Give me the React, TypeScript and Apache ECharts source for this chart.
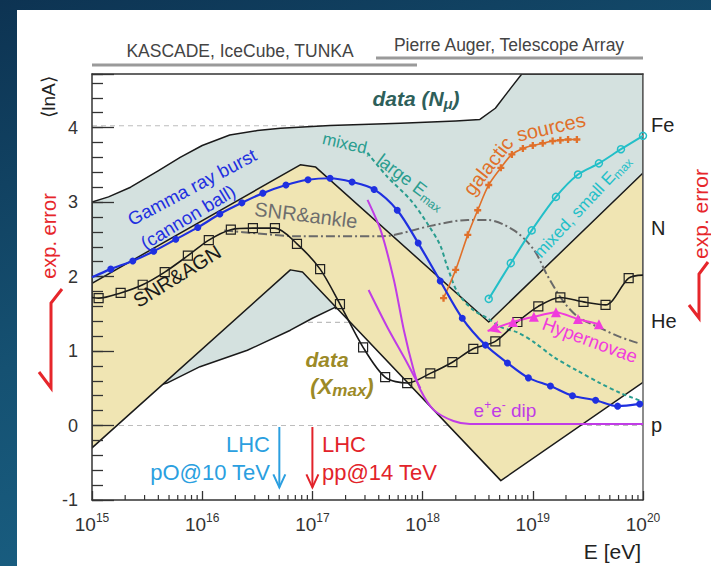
import React, { useEffect, useRef } from 'react';
import * as echarts from 'echarts';

const F = '"Liberation Sans", Arial, Helvetica, sans-serif';

// x = log10(E / eV), y = <lnA>
const X_MIN = 15;
const X_MAX = 20;
const Y_MIN = -1;
const Y_MAX = 4.72;
const LNA_VALUES = [0, 1.386, 2.639, 4.025];
const LNA_NAMES = ['p', 'He', 'N', 'Fe'];

// data (N_mu) band: upper edge then lower edge
const NMU_UPPER = [[15.0, 3.0], [15.15, 3.07], [15.35, 3.2], [15.6, 3.42], [15.8, 3.6], [16.0, 3.76], [16.25, 3.9], [16.5, 3.96], [16.71, 3.99], [17.16, 4.03], [17.8, 4.06], [18.3, 4.09], [18.52, 4.11], [18.66, 4.26], [18.8, 4.53], [18.9, 4.72], [20.0, 4.72]];
const NMU_LOWER = [[20.0, 1.2], [19.0, 1.0], [18.4, 1.0], [17.6, 1.2], [17.21, 1.59], [17.0, 1.44], [16.8, 1.28], [16.41, 1.01], [15.98, 0.79], [15.68, 0.57], [15.0, 0.3]];
// data (Xmax) band
const XMAX_BAND = [[15.0, 1.91], [16.89, 3.5], [17.03, 3.47], [18.6, 1.39], [20.0, 3.39], [20.0, 0.58], [18.71, -0.74], [16.91, 2.06], [16.8, 2.09], [15.0, -0.3]];

const GRB = [[15.0, 1.99], [15.17, 2.1], [15.37, 2.21], [15.56, 2.34], [15.76, 2.5], [15.96, 2.66], [16.16, 2.84], [16.36, 2.99], [16.55, 3.12], [16.76, 3.23], [16.96, 3.3], [17.16, 3.32], [17.36, 3.27], [17.56, 3.17], [17.77, 2.89], [17.96, 2.45], [18.16, 1.94], [18.36, 1.44], [18.57, 1.08], [18.77, 0.84], [18.96, 0.64], [19.16, 0.53], [19.36, 0.4], [19.57, 0.34], [19.77, 0.26], [19.97, 0.29]];
const SNR_AGN = [[15.0, 1.72], [15.06, 1.71], [15.26, 1.78], [15.46, 1.89], [15.66, 2.06], [15.87, 2.28], [16.06, 2.49], [16.26, 2.63], [16.46, 2.65], [16.66, 2.65], [16.86, 2.44], [17.07, 2.1], [17.25, 1.63], [17.46, 1.05], [17.66, 0.65], [17.86, 0.57], [18.07, 0.7], [18.27, 0.85], [18.46, 1.03], [18.66, 1.13], [18.86, 1.39], [19.05, 1.6], [19.25, 1.72], [19.46, 1.66], [19.66, 1.62], [19.87, 1.98], [20.0, 2.02]];
const SNR_ANKLE = [[16.2, 2.62], [16.5, 2.58], [16.89, 2.54], [17.62, 2.54], [18.1, 2.69], [18.41, 2.76], [18.59, 2.76], [18.83, 2.62], [19.01, 2.36], [19.13, 2.02], [19.28, 1.66], [19.41, 1.46], [19.61, 1.31], [19.79, 1.19], [19.95, 1.11]];
const MIX_LARGE = [[17.5, 3.66], [17.68, 3.34], [17.89, 3.03], [18.04, 2.72], [18.16, 2.42], [18.22, 2.15], [18.32, 1.78], [18.46, 1.55], [18.59, 1.44], [18.71, 1.32], [18.86, 1.25], [19.01, 1.12], [19.19, 0.92], [19.4, 0.74], [19.61, 0.57], [19.79, 0.44], [19.91, 0.37], [20.0, 0.32]];
const GALACTIC = [[18.19, 1.71], [18.3, 2.09], [18.41, 2.56], [18.5, 2.89], [18.6, 3.23], [18.71, 3.46], [18.81, 3.64], [18.91, 3.72], [19.0, 3.76], [19.09, 3.79], [19.18, 3.82], [19.25, 3.83], [19.32, 3.84], [19.4, 3.84]];
const MIX_SMALL = [[18.6, 1.7], [18.8, 2.18], [18.99, 2.62], [19.21, 3.07], [19.41, 3.37], [19.6, 3.52], [19.8, 3.71], [20.0, 3.89]];
const HYPERNOVAE = [[18.59, 1.27], [18.82, 1.39], [19.01, 1.46], [19.21, 1.52], [19.41, 1.43], [19.6, 1.36]];
const EE_DIP_A = [[17.5, 3.03], [17.62, 2.62], [17.74, 1.95], [17.83, 1.28], [17.92, 0.74], [17.98, 0.48], [18.1, 0.21], [18.28, 0.06], [18.43, 0.02], [20.0, 0.02]];
const EE_DIP_B = [[17.51, 1.82], [17.68, 1.32], [17.86, 0.84], [17.98, 0.5]];
// LHC arrows: [log10 E, top, bottom]
const LHC = [[16.7, -0.02, -0.83], [17.0, -0.02, -0.83]];
const LHC_COLORS = ['#2b9fe0', '#e2232a'];

const MINOR_X: number[] = [];
for (let d = X_MIN; d < X_MAX; d++) for (let k = 2; k <= 9; k++) MINOR_X.push(d + Math.log10(k));

const BLUE = '#1f30e0';
const TEAL = '#2a9d8f';
const ORANGE = '#e0702a';
const CYAN = '#22bfc8';
const PINK = '#f03cdc';
const PURPLE = '#c03ce6';
const RED = '#e6262b';

const polySeries = (pts: number[][], fill: string, z: number) => ({
  type: 'custom', coordinateSystem: 'cartesian2d', silent: true, z, clip: true,
  data: [[pts[0][0], pts[0][1]]],
  renderItem: (_p: any, api: any) => ({
    type: 'polygon',
    shape: { points: pts.map((p) => api.coord(p)) },
    style: { fill, stroke: '#1a1a1a', lineWidth: 1.5, lineJoin: 'round' },
  }),
});

const noSym = (p: number[]) => ({ value: p, symbol: 'none' });

const lineS = (data: any[], color: string, extra: any = {}) => ({
  type: 'line', data, silent: true, z: extra.z ?? 10,
  smooth: extra.smooth ?? 0.3,
  symbol: extra.symbol ?? 'none',
  symbolSize: extra.symbolSize ?? 7,
  showSymbol: !!extra.symbol,
  showAllSymbol: true,
  lineStyle: { color, width: extra.width ?? 2, type: extra.type ?? 'solid' },
  itemStyle: extra.itemStyle ?? { color },
});

const txt = (x: number, y: number, text: string, o: any = {}) => ({
  type: 'text', x, y, rotation: ((o.rot || 0) * Math.PI) / 180, silent: true, z: 100,
  style: {
    text, fill: o.color || '#222', fontSize: o.size || 18, fontFamily: F,
    fontWeight: o.weight || 'normal', fontStyle: o.style || 'normal',
    align: o.align || 'center', verticalAlign: 'middle', rich: o.rich,
  },
});

const subRich = (color: string, size: number, subSize: number, weight = 'normal', style = 'normal') => ({
  n: { fill: color, fontSize: size, fontFamily: F, fontWeight: weight, fontStyle: style, lineHeight: Math.round(size * 1.2) },
  s: { fill: color, fontSize: subSize, fontFamily: F, fontWeight: weight, fontStyle: style, lineHeight: subSize, verticalAlign: 'bottom' },
  u: { fill: color, fontSize: subSize, fontFamily: F, fontWeight: weight, fontStyle: style, lineHeight: subSize, verticalAlign: 'top' },
});

export default function App() {
  const ref = useRef<HTMLDivElement>(null);
  useEffect(() => {
    const chart = echarts.init(ref.current!, null, { renderer: 'svg' });
    const axisLineStyle = { color: '#333', width: 1.5 };
    const option: any = {
      animation: false,
      backgroundColor: 'transparent',
      grid: { left: 92, right: 68, top: 74, bottom: 66 },
      xAxis: [
        {
          type: 'value', min: X_MIN, max: X_MAX, interval: 1, z: 10,
          axisLine: { show: true, onZero: false, lineStyle: axisLineStyle },
          axisTick: { show: true, inside: true, length: 9, lineStyle: { color: '#333', width: 1.3 } },
          splitLine: { show: false },
          axisLabel: {
            margin: 12,
            formatter: (v: number) => `{b|10}{s|${v}}`,
            rich: {
              b: { fontSize: 19, fontFamily: F, color: '#333', lineHeight: 24 },
              s: { fontSize: 12, fontFamily: F, color: '#333', lineHeight: 13, verticalAlign: 'top' },
            },
          },
        },
        {
          type: 'value', position: 'top', min: X_MIN, max: X_MAX, z: 10,
          axisLine: { show: true, onZero: false, lineStyle: axisLineStyle },
          axisTick: { show: false }, axisLabel: { show: false }, splitLine: { show: false },
        },
      ],
      yAxis: [
        {
          type: 'value', min: Y_MIN, max: Y_MAX, interval: 1, z: 10,
          axisLine: { show: true, onZero: false, lineStyle: axisLineStyle },
          axisTick: { show: true, inside: true, length: 22, lineStyle: { color: '#333', width: 1.3 } },
          splitLine: { show: false },
          axisLabel: {
            fontSize: 18, fontFamily: F, color: '#333', margin: 14,
            formatter: (v: number) => (Number.isInteger(v) ? String(v) : ''),
          },
        },
        {
          type: 'value', position: 'right', min: Y_MIN, max: Y_MAX, z: 10,
          axisLine: { show: true, onZero: false, lineStyle: { color: '#666', width: 1.5 } },
          axisTick: { show: false }, axisLabel: { show: false }, splitLine: { show: false },
        },
        {
          type: 'value', position: 'left', min: Y_MIN, max: Y_MAX, interval: 0.2, z: 10,
          axisLine: { show: false, onZero: false },
          axisTick: { show: true, inside: true, length: 11, lineStyle: { color: '#333', width: 1.3 } },
          axisLabel: { show: false }, splitLine: { show: false },
        },
      ],
      series: [
        ...LNA_VALUES.map((v) => ({
          type: 'line', data: [[X_MIN, v], [X_MAX, v]], symbol: 'none', silent: true, z: 1,
          lineStyle: { color: '#bdbdbd', width: 1.2, type: [5, 4] },
        })),
        polySeries([...NMU_UPPER, ...NMU_LOWER], '#d4e1df', 2),
        polySeries(XMAX_BAND, '#f0e5b3', 3),
        lineS(SNR_ANKLE, '#6a6a6a', { type: [9, 3, 2, 3], smooth: 0.3 }),
        lineS(MIX_LARGE, TEAL, { type: [4, 3], smooth: 0.3 }),
        lineS(SNR_AGN.map((p, i) => (i === 0 || i === SNR_AGN.length - 1 ? noSym(p) : p)), '#1a1a1a', {
          symbol: 'rect', symbolSize: 9, width: 1.6,
          itemStyle: { color: 'rgba(0,0,0,0)', borderColor: '#222', borderWidth: 1.2 },
        }),
        lineS(EE_DIP_A, PURPLE, { smooth: 0.25 }),
        lineS(EE_DIP_B, PURPLE, { smooth: 0.25 }),
        lineS(GALACTIC, ORANGE, { symbol: 'path://M2,0H4V2H6V4H4V6H2V4H0V2H2Z', symbolSize: 7, width: 1.6 }),
        lineS(MIX_SMALL, CYAN, {
          symbol: 'circle', symbolSize: 7,
          itemStyle: { color: 'rgba(255,255,255,0)', borderColor: CYAN, borderWidth: 1.5 },
        }),
        lineS(HYPERNOVAE.map((p, i) => (i === 0 ? { value: p, symbol: 'arrow', symbolSize: [10, 13], symbolRotate: 108 } : p)), PINK, {
          symbol: 'triangle', symbolSize: 10, smooth: 0.2,
        }),
        lineS(GRB.map((p, i) => (i === 0 ? noSym(p) : p)), BLUE, { symbol: 'circle', symbolSize: 7, width: 2.2 }),
        {
          type: 'custom', silent: true, z: 20, clip: false,
          data: LHC,
          renderItem: (p: any, api: any) => {
            const t = api.coord([api.value(0), api.value(1)]);
            const b = api.coord([api.value(0), api.value(2)]);
            const c = LHC_COLORS[p.dataIndex];
            return {
              type: 'group',
              children: [
                { type: 'line', shape: { x1: t[0], y1: t[1], x2: b[0], y2: b[1] }, style: { stroke: c, lineWidth: 2 } },
                { type: 'polyline', shape: { points: [[b[0] - 6, b[1] - 13], [b[0], b[1]], [b[0] + 6, b[1] - 13]] }, style: { stroke: c, lineWidth: 2, fill: null } },
              ],
            };
          },
        },
        {
          type: 'custom', silent: true, z: 20, clip: false,
          data: MINOR_X.map((t) => [t, Y_MIN]),
          renderItem: (_p: any, api: any) => {
            const c = api.coord([api.value(0), api.value(1)]);
            return { type: 'line', shape: { x1: c[0], y1: c[1], x2: c[0], y2: c[1] - 5 }, style: { stroke: '#333', lineWidth: 1.2 } };
          },
        },
        {
          type: 'custom', silent: true, z: 20, clip: false,
          data: LNA_VALUES.map((v, i) => [X_MAX, v, i]),
          renderItem: (_p: any, api: any) => {
            const c = api.coord([api.value(0), api.value(1)]);
            return {
              type: 'text', x: c[0] + 8, y: c[1] - 1,
              style: { text: LNA_NAMES[api.value(2)], fill: '#222', fontSize: 20, fontFamily: F, align: 'left', verticalAlign: 'middle' },
            };
          },
        },
      ],
      graphic: {
        elements: [
          { type: 'line', silent: true, shape: { x1: 92, y1: 65, x2: 417, y2: 65 }, style: { stroke: '#9a9a9a', lineWidth: 3 } },
          { type: 'line', silent: true, shape: { x1: 376, y1: 58, x2: 643, y2: 58 }, style: { stroke: '#9a9a9a', lineWidth: 3 } },
          txt(240, 51, 'KASCADE, IceCube, TUNKA', { size: 17.5, color: '#444' }),
          txt(509, 45, 'Pierre Auger, Telescope Array', { size: 17.5, color: '#444' }),
          txt(48, 97, '⟨lnA⟩', { size: 19, rot: 90 }),
          txt(49, 236, 'exp. error', { size: 20, rot: 90, color: RED }),
          txt(700, 214, 'exp. error', { size: 21, rot: 90, color: RED }),
          { type: 'polyline', silent: true, shape: { points: [[62, 289], [51, 303], [51, 388], [39, 372]] }, style: { stroke: RED, lineWidth: 3, fill: null } },
          { type: 'polyline', silent: true, shape: { points: [[708, 262], [699, 274], [699, 318], [689, 305]] }, style: { stroke: RED, lineWidth: 3, fill: null } },
          txt(641, 551, 'E [eV]', { size: 21, align: 'right' }),
          txt(192, 187, 'Gamma ray burst', { size: 18.5, rot: 28, color: BLUE }),
          txt(188, 217, '(cannon ball)', { size: 18.5, rot: 31, color: BLUE }),
          txt(177, 276, 'SNR&AGN', { size: 20, rot: 32, color: '#1a1a1a' }),
          txt(306, 215, 'SNR&ankle', { size: 20, rot: -7, color: '#6e6e6e' }),
          txt(347, 144, 'mixed,', { size: 17, rot: -13, color: TEAL }),
          txt(379, 158, '{n|large E}{s|max}', { rot: -37, align: 'left', rich: subRich(TEAL, 18, 12) }),
          txt(488, 166, 'galactic', { size: 20, rot: 52, color: ORANGE }),
          txt(551, 127, 'sources', { size: 20, rot: 13, color: ORANGE }),
          txt(537, 255, '{n|mixed, small E}{s|max}', { rot: 47, align: 'left', rich: subRich(CYAN, 17, 12) }),
          txt(590, 340, 'Hypernovae', { size: 18.5, rot: -20, color: PINK }),
          txt(505, 410, '{n|e}{u|+}{n|e}{u|-}{n| dip}', { rich: subRich(PURPLE, 19, 12) }),
          txt(416, 98, '{n|data (N}{s|μ}{n|)}', { rich: subRich('#2e5f5a', 21, 15, 'bold', 'italic') }),
          txt(327, 359, 'data', { size: 21, weight: 'bold', style: 'italic', color: '#9c8a27' }),
          txt(342, 386, '{n|(X}{s|max}{n|)}', { rich: subRich('#9c8a27', 22, 17, 'bold', 'italic') }),
          txt(270, 444, 'LHC', { size: 22, align: 'right', color: LHC_COLORS[0] }),
          txt(270, 472, 'pO@10 TeV', { size: 22, align: 'right', color: LHC_COLORS[0] }),
          txt(322, 444, 'LHC', { size: 22, align: 'left', color: LHC_COLORS[1] }),
          txt(322, 472, 'pp@14 TeV', { size: 22, align: 'left', color: LHC_COLORS[1] }),
        ],
      },
    };
    chart.setOption(option);
    return () => chart.dispose();
  }, []);
  return (
    <div style={{ position: 'fixed', left: 0, top: 0, width: 711, height: 566, overflow: 'hidden', background: 'linear-gradient(160deg, #0d3352 0%, #155172 45%, #1c6a8f 100%)' }}>
      <div style={{ position: 'absolute', left: 17, top: 10, right: 0, bottom: 0, background: '#fff' }} />
      <div ref={ref} style={{ position: 'absolute', left: 0, top: 0, width: 711, height: 566 }} />
    </div>
  );
}
